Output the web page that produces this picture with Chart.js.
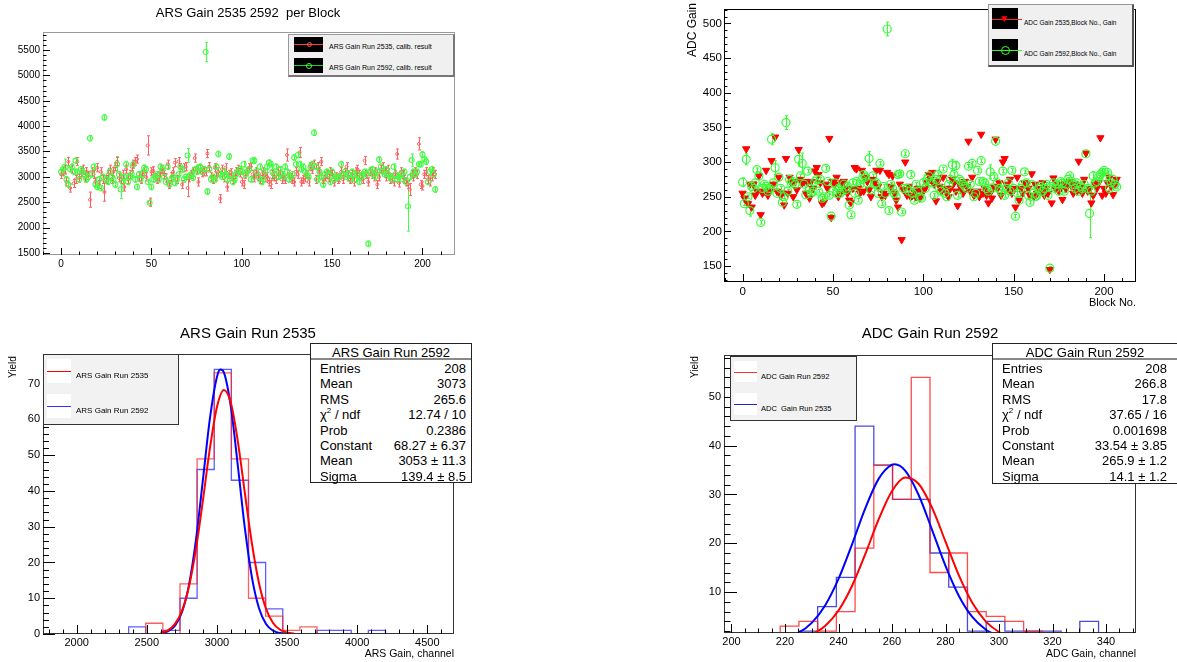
<!DOCTYPE html>
<html>
<head>
<meta charset="utf-8">
<script src="https://cdn.jsdelivr.net/npm/chart.js@4.4.1/dist/chart.umd.min.js"></script>
<style>
  body { margin: 0; width: 1177px; height: 662px; background: #fff; position: relative; overflow: hidden;
         font-family: "Liberation Sans", Arial, sans-serif; }
  canvas { position: absolute; }
  .t { position: absolute; white-space: nowrap; color: #000; line-height: 1; }
  .leg { position: absolute; box-sizing: border-box; }
  .sw { position: absolute; }
  .ln { position: absolute; height: 0; }
  .stats { position: absolute; box-sizing: border-box; background: #fff; border: 1px solid #222; font-size: 13px; }
  .stats .row { position: absolute; left: 0; right: 0; height: 15px; line-height: 15px; }
  .stats .k { position: absolute; }
  .stats .v { position: absolute; text-align: right; }
  .stats sup { font-size: 8px; line-height: 0; vertical-align: 6px; }
</style>
</head>
<body>

<canvas id="c1" width="470" height="300" style="left:0;top:0"></canvas>
<canvas id="c2" width="497" height="310" style="left:680px;top:0"></canvas>
<canvas id="c3" width="470" height="342" style="left:0;top:320px"></canvas>
<canvas id="c4" width="497" height="342" style="left:680px;top:320px"></canvas>

<!-- titles -->
<div class="t" style="left:248px;top:12px;transform:translate(-50%,-50%);font-size:13px">ARS Gain 2535 2592&nbsp; per Block</div>
<div class="t" style="left:248px;top:332px;transform:translate(-50%,-50%);font-size:15px">ARS Gain Run 2535</div>
<div class="t" style="left:930px;top:332px;transform:translate(-50%,-50%);font-size:15px">ADC Gain Run 2592</div>

<!-- axis titles -->
<div class="t" id="adcY" style="font-size:12px">ADC Gain</div>
<div class="t" style="right:41px;top:297px;font-size:11px">Block No.</div>
<div class="t" id="yield1" style="font-size:10px">Yield</div>
<div class="t" id="yield2" style="font-size:10px">Yield</div>
<div class="t" style="right:723px;top:648px;font-size:10.5px">ARS Gain, channel</div>
<div class="t" style="right:41px;top:648px;font-size:10.5px">ADC Gain, channel</div>

<!-- legend top-left -->
<div class="leg" style="left:288px;top:34px;width:167px;height:43px;background:#f0f0f0;border:1px solid #999;border-right:2px solid #777;border-bottom:2px solid #777"></div>
<div class="sw" style="left:294px;top:37px;width:29px;height:15px;background:#000"></div>
<div class="ln" style="left:294px;top:44px;width:29px;border-top:1px solid #ff4040"></div>
<div class="sw" style="left:307px;top:42px;width:3px;height:3px;border:1px solid #ff5050;border-radius:50%"></div>
<div class="t" style="left:329px;top:46px;transform:translateY(-50%);font-size:7px">ARS Gain Run 2535, calib. result</div>
<div class="sw" style="left:294px;top:58px;width:29px;height:15px;background:#000"></div>
<div class="ln" style="left:294px;top:65px;width:29px;border-top:1px solid #20d020"></div>
<div class="sw" style="left:306px;top:63px;width:4px;height:4px;border:1px solid #40ff40;border-radius:50%"></div>
<div class="t" style="left:329px;top:67px;transform:translateY(-50%);font-size:7px">ARS Gain Run 2592, calib. result</div>

<!-- legend top-right -->
<div class="leg" style="left:988px;top:4px;width:146px;height:63px;background:#f0f0f0;border:1px solid #999;border-right:2px solid #555;border-bottom:2px solid #555"></div>
<div class="sw" style="left:992px;top:8px;width:26px;height:21px;background:#000"></div>
<div class="ln" style="left:992px;top:19px;width:30px;border-top:1px solid #ff2020"></div>
<div class="t" style="left:999px;top:14px;font-size:10px;color:#ff0000">&#9660;</div>
<div class="t" style="left:1024px;top:23px;transform:translateY(-50%);font-size:6.5px">ADC Gain 2535,Block No., Gain</div>
<div class="sw" style="left:992px;top:39px;width:26px;height:22px;background:#000"></div>
<div class="ln" style="left:992px;top:50px;width:30px;border-top:1px solid #20ff20"></div>
<div class="sw" style="left:1001px;top:46px;width:7px;height:7px;border:1px solid #33ff33;border-radius:50%"></div>
<div class="t" style="left:1024px;top:54px;transform:translateY(-50%);font-size:6.5px">ADC Gain 2592,Block No., Gain</div>

<!-- legend bottom-left -->
<div class="leg" style="left:43px;top:354px;width:136px;height:71px;background:#f2f2f2;border:1px solid #333"></div>
<div class="sw" style="left:47px;top:359px;width:24px;height:24px;background:#fff"></div>
<div class="ln" style="left:47px;top:371px;width:24px;border-top:1px solid #ff0000"></div>
<div class="t" style="left:76px;top:376px;transform:translateY(-50%);font-size:8px">ARS Gain Run 2535</div>
<div class="sw" style="left:47px;top:394px;width:24px;height:24px;background:#fff"></div>
<div class="ln" style="left:47px;top:406px;width:24px;border-top:1px solid #3030ff"></div>
<div class="t" style="left:76px;top:411px;transform:translateY(-50%);font-size:8px">ARS Gain Run 2592</div>

<!-- legend bottom-right -->
<div class="leg" style="left:730px;top:356px;width:127px;height:65px;background:#f2f2f2;border:1px solid #333"></div>
<div class="sw" style="left:734px;top:361px;width:23px;height:21px;background:#fff"></div>
<div class="ln" style="left:734px;top:372px;width:23px;border-top:1px solid #ff3030"></div>
<div class="t" style="left:761px;top:377px;transform:translateY(-50%);font-size:7.5px">ADC Gain Run 2592</div>
<div class="sw" style="left:734px;top:393px;width:23px;height:22px;background:#fff"></div>
<div class="ln" style="left:734px;top:404px;width:23px;border-top:1px solid #2020d0"></div>
<div class="t" style="left:761px;top:409px;transform:translateY(-50%);font-size:7.5px">ADC&nbsp; Gain Run 2535</div>

<div id="stats1" class="stats" style="left:310px;top:343px;width:162px;height:140px"></div>
<div id="stats2" class="stats" style="left:992px;top:343px;width:186px;height:141px"></div>

<script>
// block numbers 0..207
const blocks = Array.from({ length: 208 }, (_, i) => i);

// ARS gain per block, run 2535 (red) and run 2592 (green)
const arsA = [
  3050, 3100, 3150, 2900, 3300, 2780, 3150, 2870, 2950, 3300,
  2980, 3080, 3150, 2980, 3100, 3030, 2550, 3100, 3050, 2900,
  3180, 2850, 3100, 2950, 2700, 2950, 3050, 3150, 2950, 3100,
  3200, 3300, 2980, 2950, 3050, 2800, 3150, 2950, 3050, 3200,
  3250, 3300, 3350, 3000, 2950, 3050, 3100, 3000, 3620, 2500,
  3100, 3120, 2980, 2950, 3000, 3080, 3150, 3050, 2980, 3250,
  2850, 3000, 3100, 3280, 2950, 3300, 3180, 2850, 3180, 3200,
  2780, 2980, 3050, 3100, 3370, 3150, 2900, 3150, 3080, 3100,
  3100, 3460, 3200, 3000, 2950, 3180, 3000, 3100, 2570, 3150,
  2980, 3180, 2800, 3050, 3080, 2950, 3050, 3100, 3150, 3080,
  2900, 2850, 3050, 3100, 3180, 3200, 3050, 2980, 3100, 3000,
  2950, 3050, 3100, 2980, 3000, 2900, 2850, 3050, 3000, 2950,
  3100, 3050, 2950, 3000, 2950, 3430, 3050, 2980, 2950, 2900,
  3100, 3050, 3480, 2900, 2950, 2980, 3050, 2900, 3200, 3150,
  3250, 2950, 3200, 3100, 3300, 2950, 3000, 3050, 2980, 3100,
  3050, 2900, 3000, 2950, 2980, 3100, 2950, 3080, 3200, 3000,
  2950, 3050, 2900, 3100, 3150, 3050, 3000, 2950, 3320, 3050,
  2900, 3100, 3050, 3000, 3100, 2850, 3000, 3150, 3200, 3100,
  3000, 3150, 2950, 2980, 2900, 3050, 3450, 2880, 3100, 3050,
  2950, 2900, 2850, 2750, 3050, 3000, 3100, 3050, 3650, 2850,
  2820, 3050, 3100, 2950, 2900, 3000, 3100, 3050
];
const arsB = [
  3100, 3150, 3200, 2950, 2850, 3150, 3200, 3100, 3320, 3100,
  2950, 3150, 3100, 3050, 2950, 3000, 3760, 3050, 3200, 2850,
  2800, 2950, 2780, 3000, 4170, 2950, 2900, 3100, 3000, 2950,
  2850, 3250, 3050, 2750, 2900, 3000, 3250, 2900, 3000, 3050,
  3250, 2950, 2800, 3050, 2950, 3050, 3180, 3150, 2900, 2490,
  2800, 2950, 3000, 3050, 2950, 3200, 3150, 3000, 2900, 3200,
  2850, 2950, 3000, 2880, 2950, 3050, 3200, 3150, 2950, 3000,
  3420, 3020, 3050, 2980, 3150, 3100, 3180, 3200, 3100, 3150,
  5460, 2710, 3150, 2950, 3000, 2950, 3200, 3450, 3050, 3000,
  3100, 3050, 2950, 3400, 3050, 2900, 2950, 3050, 3100, 3150,
  3100, 3250, 3050, 3100, 3150, 2950, 3320, 3320, 3100, 3000,
  3200, 2900, 2950, 3100, 3200, 3280, 3250, 3100, 3050, 3200,
  3000, 3150, 3050, 3000, 3200, 3100, 2950, 3000, 3050, 3380,
  3250, 3430, 3250, 3150, 3200, 3100, 3050, 3000, 3200, 3250,
  3870, 3200, 2950, 3100, 3000, 2850, 3050, 3100, 3050, 2900,
  3100, 2950, 3000, 2980, 3000, 3250, 3050, 3100, 3000, 3050,
  2950, 3100, 3050, 2950, 3050, 2900, 3000, 3050, 3100, 3050,
  1680, 3100, 3150, 3050, 3000, 3100, 3340, 3200, 3100, 3050,
  3150, 3050, 3000, 2950, 3200, 3050, 2950, 3000, 3050, 2950,
  3100, 2900, 2420, 3000, 3330, 3100, 3050, 3100, 3250, 3250,
  3440, 3350, 3300, 2900, 3100, 3150, 3050, 2750
];
// ARS error bars: typical size and the larger ones [block, error]
const arsAErr0 = 80, arsBErr0 = 55;
const arsAErrBig = [[16, 150], [24, 180], [48, 190], [70, 170], [125, 120], [132, 100], [186, 100], [193, 120], [198, 120]];
const arsBErrBig = [[2, 150], [31, 150], [33, 180], [70, 140], [80, 190], [117, 150], [192, 490], [194, 120]];

// ADC gain per block, run 2535 (red triangles) and run 2592 (green circles)
const adcA = [
  255, 248, 319, 240, 268, 235, 268, 252, 258, 280,
  224, 255, 258, 288, 252, 258, 302, 268, 336, 258,
  278, 252, 255, 238, 305, 255, 278, 270, 250, 272,
  260, 318, 275, 270, 272, 255, 270, 248, 272, 262,
  287, 292, 282, 270, 240, 242, 268, 262, 334, 220,
  272, 268, 278, 250, 255, 270, 272, 262, 255, 245,
  242, 262, 292, 290, 262, 255, 288, 258, 278, 272,
  260, 250, 275, 270, 288, 265, 288, 250, 255, 252,
  285, 282, 265, 280, 255, 245, 235, 268, 188, 260,
  300, 252, 265, 250, 252, 258, 250, 262, 248, 258,
  258, 262, 270, 282, 275, 285, 268, 244, 272, 265,
  258, 278, 262, 255, 250, 262, 275, 270, 258, 237,
  268, 262, 255, 272, 265, 330, 258, 278, 252, 255,
  258, 250, 340, 255, 262, 252, 241, 255, 248, 265,
  333, 262, 270, 252, 300, 305, 268, 262, 275, 255,
  262, 235, 278, 245, 262, 255, 270, 268, 262, 252,
  283, 250, 268, 255, 262, 258, 270, 252, 262, 255,
  145, 241, 277, 262, 268, 258, 262, 246, 268, 262,
  270, 272, 265, 255, 268, 258, 301, 265, 255, 275,
  313, 258, 262, 241, 252, 268, 262, 270, 335, 252,
  262, 255, 270, 278, 265, 253, 268, 275
];
const adcB = [
  271, 240, 304, 250, 230, 265, 262, 270, 289, 280,
  213, 262, 268, 265, 258, 262, 333, 270, 292, 255,
  278, 262, 242, 250, 357, 258, 275, 270, 272, 268,
  239, 304, 280, 298, 268, 253, 287, 262, 255, 258,
  272, 275, 258, 275, 248, 250, 291, 272, 252, 222,
  258, 270, 255, 262, 255, 258, 268, 260, 265, 238,
  224, 270, 255, 272, 245, 268, 275, 282, 278, 270,
  305, 260, 280, 268, 270, 255, 298, 240, 265, 255,
  492, 230, 268, 262, 255, 250, 282, 283, 228, 262,
  312, 262, 258, 282, 255, 245, 268, 258, 250, 248,
  270, 262, 275, 280, 272, 270, 252, 275, 282, 262,
  258, 290, 255, 250, 268, 275, 296, 282, 295, 252,
  275, 272, 268, 265, 262, 294, 268, 298, 250, 255,
  288, 272, 302, 272, 270, 262, 258, 286, 262, 279,
  330, 270, 262, 258, 287, 252, 262, 270, 258, 288,
  262, 222, 255, 245, 262, 268, 286, 270, 252, 242,
  268, 255, 250, 252, 262, 265, 258, 262, 268, 252,
  147, 265, 270, 262, 268, 258, 272, 270, 258, 268,
  275, 280, 272, 268, 262, 270, 258, 265, 262, 268,
  312, 262, 226, 258, 280, 270, 272, 278, 282, 285,
  288, 278, 285, 262, 270, 275, 268, 264
];
const adcBErr0 = 2.5;
const adcBErrBig = [[0, 6], [2, 8], [4, 8], [16, 8], [18, 10], [24, 10], [31, 10], [33, 15], [70, 10], [80, 10], [116, 8], [118, 6], [137, 10], [192, 35], [194, 6], [199, 5]];

// ARS gain histograms (24 bins from 1760, width 122.08)
const arsBinLo = 1760, arsBinW = 122.08;
const arsHistA = [0, 0, 0, 0, 0, 0, 3, 0, 14, 49, 73, 49, 10, 5, 1, 2, 0, 0, 0, 0, 0, 0, 0, 0];
const arsHistB = [0, 0, 0, 0, 0, 2, 0, 1, 10, 46, 74, 43, 20, 7, 0, 0, 1, 1, 0, 1, 0, 0, 0, 0];
// gaussian fits
const arsFitAx = [2600, 2650, 2700, 2750, 2800, 2850, 2900, 2950, 3000, 3050, 3100, 3150, 3200, 3250, 3300, 3350, 3400, 3450, 3500, 3550];
const arsFitA  = [0.35, 1.04, 2.77, 6.42, 13.15, 23.66, 37.38, 51.96, 63.5, 68.25, 64.5, 53.6, 39.15, 25.16, 14.2, 7.05, 3.08, 1.18, 0.4, 0.12];
const arsFitBx = [2600, 2650, 2700, 2750, 2800, 2850, 2900, 2950, 3000, 3025, 3050, 3100, 3150, 3200, 3250, 3300, 3350, 3400, 3450, 3500];
const arsFitB  = [0.2, 0.73, 2.27, 6.0, 13.6, 26.2, 43.1, 60.3, 71.9, 73.95, 73.1, 63.3, 46.7, 29.3, 15.7, 7.18, 2.79, 0.93, 0.26, 0.06];

// ADC gain histograms (22 bins from 197.2, width 7)
const adcBinLo = 197.2, adcBinW = 7;
const adcHistA = [0, 0, 0, 3, 4, 2, 6, 19, 36, 29, 54, 14, 18, 6, 5, 4, 2, 1, 0, 0, 0, 0];   // run 2592, red
const adcHistB = [0, 0, 0, 0, 2, 7, 13, 44, 36, 29, 29, 18, 11, 2, 4, 2, 2, 2, 0, 4, 0, 0];  // run 2535, blue
const adcFitAx = [230, 235, 240, 245, 250, 255, 260, 265, 270, 275, 280, 285, 290, 295, 300, 302];
const adcFitA  = [1.31, 3.04, 6.21, 11.19, 17.76, 24.88, 30.72, 33.47, 32.15, 27.24, 20.34, 13.4, 7.78, 3.99, 1.8, 1.3];
const adcFitBx = [224, 225, 230, 235, 240, 245, 250, 255, 260, 261, 265, 270, 275, 280, 285, 290, 295, 298];
const adcFitB  = [1.5, 1.66, 3.68, 7.25, 12.68, 19.69, 27.15, 33.2, 36.1, 36.2, 34.85, 29.85, 22.7, 15.35, 9.2, 4.9, 2.32, 1.39];

// tick labels
const blockTicks = [0, 50, 100, 150, 200];
const arsTicksY = [1500, 2000, 2500, 3000, 3500, 4000, 4500, 5000, 5500];
const adcTicksY = [150, 200, 250, 300, 350, 400, 450, 500];
const arsHistTicks = [2000, 2500, 3000, 3500, 4000, 4500];
const yieldTicksA = [0, 10, 20, 30, 40, 50, 60, 70];
const adcHistTicks = [200, 220, 240, 260, 280, 300, 320, 340];
const yieldTicksB = [10, 20, 30, 40, 50];

// stats boxes
const statsArs = { title: 'ARS Gain Run 2592', rows: [
  ['Entries', '208'], ['Mean', '3073'], ['RMS', '265.6'], ['χ<sup>2</sup> / ndf', '12.74 / 10'],
  ['Prob', '0.2386'], ['Constant', '68.27 ± 6.37'], ['Mean', '3053 ± 11.3'], ['Sigma', '139.4 ± 8.5']] };
const statsAdc = { title: 'ADC Gain Run 2592', rows: [
  ['Entries', '208'], ['Mean', '266.8'], ['RMS', '17.8'], ['χ<sup>2</sup> / ndf', '37.65 / 16'],
  ['Prob', '0.001698'], ['Constant', '33.54 ± 3.85'], ['Mean', '265.9 ± 1.2'], ['Sigma', '14.1 ± 1.2']] };

function fillStats(id, s, keyLeft, valRight) {
  const el = document.getElementById(id);
  let h = `<div class="t" style="left:0;right:0;top:2px;text-align:center;line-height:13px">${s.title}</div>`;
  h += `<div style="position:absolute;left:0;right:0;top:14px;border-top:2px solid #888"></div>`;
  s.rows.forEach((r, i) => {
    const top = 17 + i * 15.4;
    h += `<div class="row" style="top:${top}px"><span class="k" style="left:${keyLeft}px">${r[0]}</span>` +
         `<span class="v" style="right:${valRight}px">${r[1]}</span></div>`;
  });
  el.innerHTML = h;
}
fillStats('stats1', statsArs, 9, 5);
fillStats('stats2', statsAdc, 9, 10);

function place(id, cx, top) {
  const el = document.getElementById(id);
  el.style.transformOrigin = '0 0';
  el.style.left = (cx - el.offsetHeight / 2) + 'px';
  el.style.top = (top + el.offsetWidth) + 'px';
  el.style.transform = 'rotate(-90deg)';
}
place('adcY', 692, 3);
place('yield1', 13, 356);
place('yield2', 695, 356);

function withErr(vals, e0, big) {
  const e = vals.map(() => e0);
  big.forEach(([i, v]) => { e[i] = v; });
  return e;
}
function steps(lo, w, counts) {
  const pts = [{ x: lo, y: 0 }];
  counts.forEach((c, k) => pts.push({ x: lo + k * w, y: c }));
  pts.push({ x: lo + counts.length * w, y: 0 });
  return pts;
}
const xy = (xs, ys) => xs.map((x, i) => ({ x, y: ys[i] }));

// ROOT-like frame with inward major/minor ticks
const rootAxes = {
  id: 'rootAxes',
  afterDraw(chart, args, o) {
    const { ctx, chartArea: a, scales: { x, y } } = chart;
    ctx.save();
    ctx.strokeStyle = o.color;
    ctx.lineWidth = 1;
    ctx.strokeRect(Math.round(a.left) + 0.5, Math.round(a.top) + 0.5, Math.round(a.right - a.left) - 1, Math.round(a.bottom - a.top) - 1);
    ctx.strokeStyle = '#000';
    ctx.beginPath();
    const base = o.xTicks[0];
    for (let k = -60; k < 200; k++) {
      const v = base + k * o.xMinor;
      if (v < x.min || v > x.max) continue;
      const major = o.xTicks.some(t => Math.abs(t - v) < 1e-6);
      const px = Math.round(x.getPixelForValue(v)) + 0.5;
      ctx.moveTo(px, a.bottom);
      ctx.lineTo(px, a.bottom - (major ? o.xLen : o.xLen / 2));
    }
    const ybase = o.yTicks[0];
    for (let k = -60; k < 200; k++) {
      const v = ybase + k * o.yMinor;
      if (v < y.min || v > y.max) continue;
      const major = o.yTicks.some(t => Math.abs(t - v) < 1e-6);
      const py = Math.round(y.getPixelForValue(v)) + 0.5;
      ctx.moveTo(a.left, py);
      ctx.lineTo(a.left + (major ? o.yLen : o.yLen / 2), py);
    }
    ctx.stroke();
    ctx.restore();
  }
};

// vertical error bars
const errBars = {
  id: 'errBars',
  beforeDatasetsDraw(chart) {
    const { ctx, chartArea: a, scales: { x, y } } = chart;
    ctx.save();
    ctx.beginPath();
    ctx.rect(a.left, a.top, a.right - a.left, a.bottom - a.top);
    ctx.clip();
    chart.data.datasets.forEach(ds => {
      if (!ds.errs) return;
      ctx.strokeStyle = ds.borderColor;
      ctx.lineWidth = 1;
      ctx.beginPath();
      ds.data.forEach((p, i) => {
        const e = ds.errs[i];
        const px = Math.round(x.getPixelForValue(p.x)) + 0.5;
        const y1 = y.getPixelForValue(p.y - e), y2 = y.getPixelForValue(p.y + e);
        ctx.moveTo(px, y1); ctx.lineTo(px, y2);
        ctx.moveTo(px - 1.5, y1); ctx.lineTo(px + 1.5, y1);
        ctx.moveTo(px - 1.5, y2); ctx.lineTo(px + 1.5, y2);
      });
      ctx.stroke();
    });
    ctx.restore();
  }
};

function scale(min, max, ticks, size, fit, axis, pad) {
  return {
    type: 'linear', min, max,
    afterBuildTicks: s => { s.ticks = ticks.map(v => ({ value: v })); },
    afterFit: s => { if (axis === 'x') s.height = fit; else s.width = fit; },
    grid: { display: false, drawTicks: false }, border: { display: false },
    ticks: { autoSkip: false, maxRotation: 0, padding: pad, color: '#000',
             font: { family: 'Liberation Sans', size }, callback: v => String(v) }
  };
}
function base(padding, scales, axes) {
  return {
    responsive: false, animation: false, devicePixelRatio: 1,
    layout: { padding },
    plugins: { legend: { display: false }, tooltip: { enabled: false }, rootAxes: axes },
    scales
  };
}

// top-left: ARS gain per block
new Chart(document.getElementById('c1'), {
  type: 'scatter',
  data: { datasets: [
    { data: xy(blocks, arsB), errs: withErr(arsB, arsBErr0, arsBErrBig), order: 0,
      pointStyle: 'circle', pointRadius: 2.5, borderWidth: 1.1, borderColor: '#44ff44', backgroundColor: 'rgba(0,0,0,0)' },
    { data: xy(blocks, arsA), errs: withErr(arsA, arsAErr0, arsAErrBig), order: 1,
      pointStyle: 'circle', pointRadius: 1.5, borderWidth: 1, borderColor: '#ff6060', backgroundColor: 'rgba(0,0,0,0)' }
  ] },
  options: base({ top: 32, right: 15, left: 0, bottom: 0 }, {
    x: scale(-10, 218, blockTicks, 10, 45, 'x', 3),
    y: scale(1460, 5855, arsTicksY, 10, 43, 'y', 3)
  }, { color: '#999', xTicks: blockTicks, xMinor: 10, xLen: 7, yTicks: arsTicksY, yMinor: 100, yLen: 7 }),
  plugins: [rootAxes, errBars]
});

// top-right: ADC gain per block
new Chart(document.getElementById('c2'), {
  type: 'scatter',
  data: { datasets: [
    { data: xy(blocks, adcB), errs: withErr(adcB, adcBErr0, adcBErrBig), order: 0,
      pointStyle: 'circle', pointRadius: 4, borderWidth: 1.2, borderColor: '#33ff33', backgroundColor: 'rgba(0,0,0,0)' },
    { data: xy(blocks, adcA), order: 1,
      pointStyle: 'triangle', rotation: 180, pointRadius: 4.2, borderWidth: 1, borderColor: '#ff0000', backgroundColor: '#ff0000' }
  ] },
  options: base({ top: 3, right: 41, left: 0, bottom: 0 }, {
    x: scale(-10.3, 217.7, blockTicks, 11.5, 28, 'x', 3),
    y: scale(127, 521, adcTicksY, 11.5, 44, 'y', 2)
  }, { color: '#000', xTicks: blockTicks, xMinor: 10, xLen: 8, yTicks: adcTicksY, yMinor: 10, yLen: 7 }),
  plugins: [rootAxes, errBars]
});

const line = (data, color, width) => ({
  data, borderColor: color, borderWidth: width, pointRadius: 0, fill: false
});

// bottom-left: ARS gain histograms
new Chart(document.getElementById('c3'), {
  type: 'line',
  data: { datasets: [
    { ...line(xy(arsFitAx, arsFitA), '#ff0000', 2), cubicInterpolationMode: 'monotone', order: 0 },
    { ...line(xy(arsFitBx, arsFitB), '#0000ff', 2), cubicInterpolationMode: 'monotone', order: 1 },
    { ...line(steps(arsBinLo, arsBinW, arsHistA), 'rgba(255,40,40,0.75)', 1.3), stepped: 'before', order: 2 },
    { ...line(steps(arsBinLo, arsBinW, arsHistB), 'rgba(40,40,255,0.75)', 1.3), stepped: 'before', order: 3 }
  ] },
  options: base({ top: 34, right: 16, left: 0, bottom: 0 }, {
    x: scale(1760, 4690, arsHistTicks, 11, 28, 'x', 2),
    y: scale(0, 78.3, yieldTicksA, 11, 43, 'y', 3)
  }, { color: '#333', xTicks: arsHistTicks, xMinor: 100, xLen: 9, yTicks: yieldTicksA, yMinor: 2, yLen: 12 }),
  plugins: [rootAxes]
});

// bottom-right: ADC gain histograms
new Chart(document.getElementById('c4'), {
  type: 'line',
  data: { datasets: [
    { ...line(xy(adcFitAx, adcFitA), '#ff0000', 2), cubicInterpolationMode: 'monotone', order: 0 },
    { ...line(xy(adcFitBx, adcFitB), '#0000ff', 2), cubicInterpolationMode: 'monotone', order: 1 },
    { ...line(steps(adcBinLo, adcBinW, adcHistA), 'rgba(255,30,30,0.8)', 1.3), stepped: 'before', order: 2 },
    { ...line(steps(adcBinLo, adcBinW, adcHistB), 'rgba(30,30,210,0.8)', 1.3), stepped: 'before', order: 3 }
  ] },
  options: base({ top: 35, right: 41, left: 0, bottom: 0 }, {
    x: scale(197.2, 351.2, adcHistTicks, 11, 29, 'x', 2),
    y: scale(1.6, 58.6, yieldTicksB, 11, 44, 'y', 3)
  }, { color: '#333', xTicks: adcHistTicks, xMinor: 5, xLen: 9, yTicks: yieldTicksB, yMinor: 2, yLen: 13 }),
  plugins: [rootAxes]
});
</script>
</body>
</html>
